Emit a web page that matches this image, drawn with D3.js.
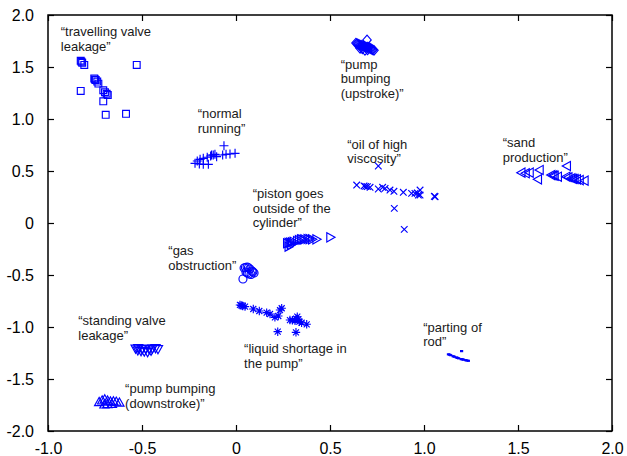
<!DOCTYPE html>
<html>
<head>
<meta charset="utf-8">
<script src="https://cdn.jsdelivr.net/npm/d3@7"></script>
<style>
  html, body { margin: 0; padding: 0; background: #fff; }
  svg { display: block; }
  text { font-family: "Liberation Sans", Arial, Helvetica, sans-serif; }
</style>
</head>
<body>
<svg id="chart" width="627" height="456"></svg>
<script>
// Fault classes in the 2-D feature map, one array of [x, y] per class
const travellingValveLeakage = [
  [-0.826, 1.56], [-0.822, 1.55], [-0.818, 1.54], [-0.807, 1.52], [-0.528, 1.52],
  [-0.754, 1.39], [-0.75, 1.38], [-0.746, 1.375], [-0.738, 1.36], [-0.732, 1.34],
  [-0.706, 1.276], [-0.697, 1.257], [-0.688, 1.243], [-0.682, 1.23],
  [-0.826, 1.27], [-0.706, 1.17], [-0.693, 1.04], [-0.585, 1.05]
];
const pumpBumpingUp = [
  [0.638, 1.73], [0.644, 1.725], [0.649, 1.72], [0.655, 1.715], [0.66, 1.71],
  [0.665, 1.705], [0.67, 1.71], [0.676, 1.70], [0.681, 1.70], [0.686, 1.695],
  [0.691, 1.69], [0.697, 1.69], [0.702, 1.69], [0.708, 1.685], [0.713, 1.68],
  [0.718, 1.675], [0.723, 1.67], [0.728, 1.665], [0.734, 1.66],
  [0.697, 1.76], [0.66, 1.68], [0.672, 1.675], [0.686, 1.66], [0.7, 1.665]
];
const normalRunning = [
  [-0.064, 0.743], [-0.218, 0.574], [-0.195, 0.567], [-0.174, 0.564], [-0.147, 0.564],
  [-0.191, 0.612], [-0.174, 0.622], [-0.153, 0.632], [-0.135, 0.644], [-0.121, 0.654],
  [-0.103, 0.638], [-0.071, 0.654], [-0.053, 0.66], [-0.032, 0.663], [-0.005, 0.67],
  [-0.112, 0.66], [-0.13, 0.654], [-0.206, 0.596]
];
const oilHighViscosity = [
  [0.757, 0.548], [0.642, 0.365], [0.681, 0.356], [0.69, 0.352], [0.699, 0.35],
  [0.713, 0.343], [0.757, 0.327], [0.78, 0.343], [0.793, 0.333], [0.819, 0.317],
  [0.84, 0.305], [0.89, 0.295], [0.934, 0.285], [0.952, 0.285], [0.97, 0.269],
  [0.979, 0.317], [0.979, 0.269], [0.965, 0.29], [1.059, 0.253], [1.055, 0.257],
  [0.842, 0.141], [0.895, -0.061]
];
const sandProduction = [
  [1.52, 0.484], [1.543, 0.478], [1.564, 0.484], [1.617, 0.51], [1.608, 0.42],
  [1.679, 0.461], [1.69, 0.458], [1.697, 0.454], [1.714, 0.445], [1.762, 0.548],
  [1.759, 0.445], [1.77, 0.44], [1.786, 0.43], [1.795, 0.425], [1.803, 0.423],
  [1.815, 0.42], [1.83, 0.413], [1.856, 0.407]
];
const pistonOutside = [
  [0.27, -0.195], [0.278, -0.19], [0.287, -0.189], [0.296, -0.185], [0.305, -0.18],
  [0.323, -0.173], [0.333, -0.165], [0.344, -0.157], [0.352, -0.16], [0.362, -0.157],
  [0.379, -0.154], [0.39, -0.155], [0.403, -0.157], [0.426, -0.157], [0.5, -0.138],
  [0.278, -0.228], [0.29, -0.21]
];
const gasObstruction = [
  [0.043, -0.433], [0.05, -0.428], [0.059, -0.423], [0.066, -0.43], [0.074, -0.442],
  [0.085, -0.462], [0.09, -0.47], [0.096, -0.48], [0.053, -0.471], [0.06, -0.48],
  [0.069, -0.49], [0.08, -0.495], [0.037, -0.538]
];
const liquidShortage = [
  [0.021, -0.788], [0.028, -0.792], [0.036, -0.798], [0.048, -0.804], [0.092, -0.827],
  [0.124, -0.846], [0.163, -0.862], [0.181, -0.875], [0.207, -0.907], [0.225, -0.894],
  [0.234, -0.837], [0.243, -0.82], [0.287, -0.933], [0.3, -0.935], [0.314, -0.94],
  [0.331, -0.926], [0.337, -0.949], [0.326, -0.901], [0.32, -0.92], [0.349, -0.959],
  [0.376, -0.974], [0.222, -1.045], [0.319, -1.051]
];
const standingValveLeakage = [
  [-0.534, -1.205], [-0.52, -1.20], [-0.5, -1.21], [-0.48, -1.205], [-0.462, -1.21],
  [-0.445, -1.205], [-0.428, -1.20], [-0.415, -1.21], [-0.522, -1.222], [-0.505, -1.228],
  [-0.488, -1.232], [-0.47, -1.238], [-0.452, -1.225]
];
const pumpBumpingDown = [
  [-0.728, -1.725], [-0.712, -1.71], [-0.698, -1.70], [-0.683, -1.712], [-0.668, -1.72],
  [-0.652, -1.718], [-0.637, -1.722], [-0.62, -1.73], [-0.7, -1.748], [-0.684, -1.745],
  [-0.66, -1.742]
];
const partingOfRod = [
  [1.13, -1.262], [1.136, -1.265], [1.142, -1.27], [1.155, -1.28], [1.161, -1.285],
  [1.172, -1.292], [1.178, -1.296], [1.184, -1.30], [1.198, -1.308], [1.204, -1.31],
  [1.21, -1.313], [1.222, -1.318], [1.228, -1.321], [1.236, -1.324], [1.2, -1.231]
];

// Axis ticks
const xTicks = [-1.0, -0.5, 0, 0.5, 1.0, 1.5, 2.0];
const yTicks = [-2.0, -1.5, -1.0, -0.5, 0, 0.5, 1.0, 1.5, 2.0];
const xTickLabels = ["-1.0", "-0.5", "0", "0.5", "1.0", "1.5", "2.0"];
const yTickLabels = ["-2.0", "-1.5", "-1.0", "-0.5", "0", "0.5", "1.0", "1.5", "2.0"];

// Class names, each anchored (in data units) at the start of its first line
const classNames = [
  { lines: ["\u201ctravelling valve", "leakage\u201d"], at: [-0.932, 1.798] },
  { lines: ["\u201cpump", "bumping", "(upstroke)\u201d"], at: [0.557, 1.481] },
  { lines: ["\u201cnormal", "running\u201d"], at: [-0.204, 1.007] },
  { lines: ["\u201coil of high", "viscosity\u201d"], at: [0.592, 0.712] },
  { lines: ["\u201csand", "production\u201d"], at: [1.419, 0.728] },
  { lines: ["\u201cpiston goes", "outside of the", "cylinder\u201d"], at: [0.089, 0.238] },
  { lines: ["\u201cgas", "obstruction\u201d"], at: [-0.36, -0.308] },
  { lines: ["\u201cliquid shortage in", "the pump\u201d"], at: [0.043, -1.253] },
  { lines: ["\u201cstanding valve", "leakage\u201d"], at: [-0.839, -0.981] },
  { lines: ["\u201cpump bumping", "(downstroke)\u201d"], at: [-0.59, -1.638] },
  { lines: ["\u201cparting of", "rod\u201d"], at: [0.996, -1.045] }
];

const series = [
  { data: travellingValveLeakage, marker: "square" },
  { data: pumpBumpingUp, marker: "diamond" },
  { data: normalRunning, marker: "plus" },
  { data: oilHighViscosity, marker: "cross" },
  { data: sandProduction, marker: "triLeft" },
  { data: pistonOutside, marker: "triRight" },
  { data: gasObstruction, marker: "circle" },
  { data: liquidShortage, marker: "star" },
  { data: standingValveLeakage, marker: "triDown" },
  { data: pumpBumpingDown, marker: "triUp" },
  { data: partingOfRod, marker: "dot" }
];

const svg = d3.select("#chart");
const margin = { left: 48, right: 15, top: 15, bottom: 25 };
const W = 627, H = 456;

const x = d3.scaleLinear().domain([-1, 2]).range([margin.left, W - margin.right]);
const y = d3.scaleLinear().domain([-2, 2]).range([H - margin.bottom, margin.top]);

const blue = "#0000ff";

// open gnuplot-style point shapes, centred on 0,0
const markerPaths = {
  square: "M-3.4,-3.4H3.4V3.4H-3.4Z",
  diamond: "M0,-4.8L4.2,0L0,4.8L-4.2,0Z",
  plus: "M-4.5,0H4.5M0,-4.5V4.5",
  cross: "M-3.3,-3.3L3.3,3.3M-3.3,3.3L3.3,-3.3",
  triUp: "M0,-5L4.6,3.2H-4.6Z",
  triDown: "M0,5L4.6,-3.2H-4.6Z",
  triLeft: "M-5,0L3.2,-4.6V4.6Z",
  triRight: "M5,0L-3.2,-4.6V4.6Z",
  circle: "M4,0A4,4 0 1,1 -4,0A4,4 0 1,1 4,0Z",
  star: "M-4.2,0H4.2M0,-4.2V4.2M-3,-3L3,3M-3,3L3,-3",
  dot: "M-1.6,-1H1.6V1.2H-1.6Z"
};

const plot = svg.append("g");

series.forEach(s => {
  plot.append("g")
    .selectAll("path")
    .data(s.data)
    .join("path")
    .attr("transform", d => `translate(${x(d[0])},${y(d[1])})`)
    .attr("d", markerPaths[s.marker])
    .attr("fill", s.marker === "dot" ? blue : "none")
    .attr("stroke", s.marker === "dot" ? "none" : blue)
    .attr("stroke-width", 1.15);
});

// frame with inward ticks on all four sides
const tickLen = 6;
const axes = svg.append("g");

axes.append("g")
  .attr("transform", `translate(0,${y(-2)})`)
  .call(d3.axisBottom(x).tickValues(xTicks).tickSizeInner(-tickLen).tickSizeOuter(0)
    .tickFormat((d, i) => xTickLabels[i]).tickPadding(12))
  .call(g => g.select(".domain").remove());

axes.append("g")
  .attr("transform", `translate(0,${y(2)})`)
  .call(d3.axisTop(x).tickValues(xTicks).tickSizeInner(-tickLen).tickSizeOuter(0).tickFormat(""))
  .call(g => g.select(".domain").remove());

axes.append("g")
  .attr("transform", `translate(${x(-1)},0)`)
  .call(d3.axisLeft(y).tickValues(yTicks).tickSizeInner(-tickLen).tickSizeOuter(0)
    .tickFormat((d, i) => yTickLabels[i]).tickPadding(14))
  .call(g => g.select(".domain").remove());

axes.append("g")
  .attr("transform", `translate(${x(2)},0)`)
  .call(d3.axisRight(y).tickValues(yTicks).tickSizeInner(-tickLen).tickSizeOuter(0).tickFormat(""))
  .call(g => g.select(".domain").remove());

axes.selectAll(".tick line").attr("stroke", "#000").attr("stroke-width", 1.2);
axes.selectAll(".tick text")
  .attr("fill", "#000")
  .style("font-size", "16px")
  .style("font-family", "'Liberation Sans', Arial, Helvetica, sans-serif");

axes.append("rect")
  .attr("x", x(-1)).attr("y", y(2))
  .attr("width", x(2) - x(-1)).attr("height", y(-2) - y(2))
  .attr("fill", "none").attr("stroke", "#000").attr("stroke-width", 1.5);

// class names
const lineHeight = 14.5;
const names = svg.append("g");
classNames.forEach(c => {
  const t = names.append("text")
    .attr("x", x(c.at[0])).attr("y", y(c.at[1]))
    .attr("fill", "#1a1a1a")
    .style("font-size", "13px");
  c.lines.forEach((ln, i) => {
    t.append("tspan")
      .attr("x", x(c.at[0]))
      .attr("dy", i === 0 ? 0 : lineHeight)
      .text(ln);
  });
});
</script>
</body>
</html>
